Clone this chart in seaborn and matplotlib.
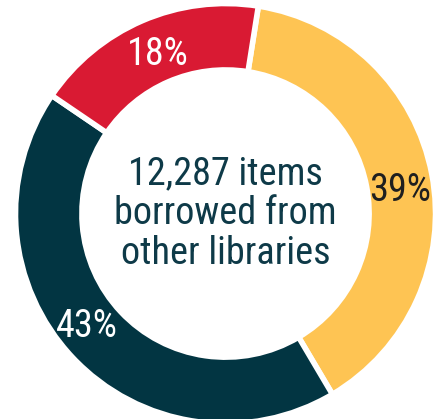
import numpy as np
import matplotlib
matplotlib.use("Agg")
import matplotlib.pyplot as plt
import seaborn as sns

# data
segments = ["Yellow", "Teal", "Red"]
shares = [39, 43, 18]
labels = ["39%", "43%", "18%"]
colors = ["#FEC453", "#023542", "#D91A33"]
label_colors = ["#1f1f1f", "white", "white"]
center_text = "12,287 items\nborrowed from\nother libraries"

sns.set_theme(style="white")
plt.rcParams['font.family'] = ['Roboto Condensed', 'Roboto', 'DejaVu Sans']
plt.rcParams['font.stretch'] = 'condensed'

fig = plt.figure(figsize=(4.43, 4.19), dpi=100)
ax = fig.add_axes([0, 0, 1, 1])

R = 1.012
ring = 0.32
wedges, _ = ax.pie(shares, colors=colors, startangle=81, counterclock=False,
                   radius=R,
                   wedgeprops=dict(width=ring, edgecolor="white", linewidth=4))

# percentage labels sit on the ring's centre line, slightly nudged
nudge = [-2, -5, -1]
for w, lab, col, dn in zip(wedges, labels, label_colors, nudge):
    ang = np.deg2rad((w.theta1 + w.theta2) / 2 + dn)
    r = R - ring / 2
    ax.text(r * np.cos(ang), r * np.sin(ang), lab, color=col,
            fontsize=27.5, ha="center", va="center_baseline")

ax.text(0, 0.0, center_text, ha="center", va="center", fontsize=27.5,
        color="#0E3A48", linespacing=1.1)

ax.set_xlim(-1.0867, 1.048)
ax.set_ylim(-0.990, 1.029)
ax.set_aspect("auto")
ax.axis("off")

fig.savefig("out.png", dpi=100, facecolor="white")
